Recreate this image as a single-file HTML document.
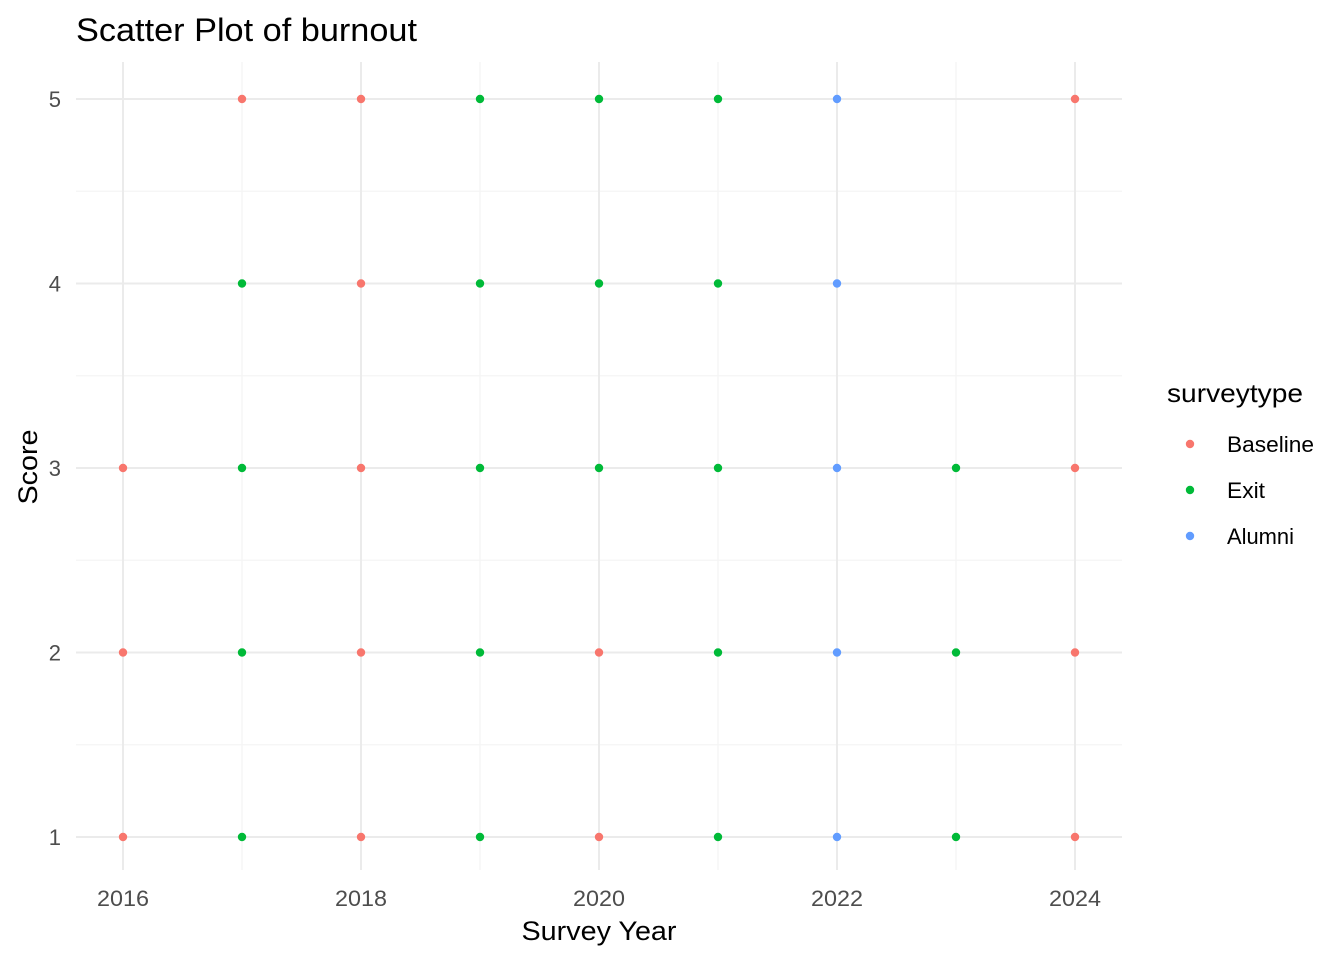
<!DOCTYPE html>
<html><head><meta charset="utf-8"><style>
body{margin:0;background:#fff;font-family:"Liberation Sans",Arial,sans-serif}
svg text{font-family:"Liberation Sans",Arial,sans-serif}
</style></head><body>
<svg id="chart" width="1344" height="960" xmlns="http://www.w3.org/2000/svg">
<text x="76" y="41" font-size="32" textLength="341" lengthAdjust="spacingAndGlyphs" fill="#000">Scatter Plot of burnout</text>
<g id="grid"></g>
<g id="points"></g>
<g id="xticks"></g>
<g id="yticks"></g>
<text x="599" y="940" font-size="27" textLength="155" lengthAdjust="spacingAndGlyphs" text-anchor="middle" fill="#000">Survey Year</text>
<text transform="translate(37,467) rotate(-90)" font-size="27" textLength="75" lengthAdjust="spacingAndGlyphs" text-anchor="middle" fill="#000">Score</text>
<g>
<text x="1167" y="402" font-size="26" textLength="136" lengthAdjust="spacingAndGlyphs" fill="#000">surveytype</text>
<g><circle cx="1190" cy="444" r="4.2" fill="#F8766D"/><text x="1227" y="452" font-size="22" textLength="87" lengthAdjust="spacingAndGlyphs">Baseline</text></g>
<g><circle cx="1190" cy="490" r="4.2" fill="#00BA38"/><text x="1227" y="498" font-size="22" textLength="38" lengthAdjust="spacingAndGlyphs">Exit</text></g>
<g><circle cx="1190" cy="536" r="4.2" fill="#619CFF"/><text x="1227" y="544" font-size="22" textLength="67" lengthAdjust="spacingAndGlyphs">Alumni</text></g>
</g>
</svg>
<script>
const years = [2016,2016,2016,2017,2017,2017,2017,2017,2018,2018,2018,2018,2018,2019,2019,2019,2019,2019,2020,2020,2020,2020,2020,2021,2021,2021,2021,2021,2022,2022,2022,2022,2022,2023,2023,2023,2024,2024,2024,2024];
const scores = [3,2,1,5,4,3,2,1,5,4,3,2,1,5,4,3,2,1,5,4,3,2,1,5,4,3,2,1,5,4,3,2,1,3,2,1,5,3,2,1];
const types = ["B","B","B","B","E","E","E","E","B","B","B","B","B","E","E","E","E","E","E","E","E","B","B","E","E","E","E","E","A","A","A","A","A","E","E","E","B","B","B","B"];
const xTicks = [2016,2018,2020,2022,2024];
const yTicks = [1,2,3,4,5];
const colors = {B:"#F8766D",E:"#00BA38",A:"#619CFF"};
const NS="http://www.w3.org/2000/svg";
function xs(v){return 123+(v-2016)*(1075-123)/8;}
function ys(v){return 837-(v-1)*(837-99)/4;}
const X0=76,X1=1122,Y0=62,Y1=870;
function mk(tag,attrs,parent){const e=document.createElementNS(NS,tag);for(const k in attrs)e.setAttribute(k,attrs[k]);parent.appendChild(e);return e;}
const grid=document.getElementById('grid');
for(let v=2017;v<=2023;v+=2){const l=mk('line',{x1:xs(v),x2:xs(v),y1:Y0,y2:Y1,stroke:'#f4f4f4','stroke-width':1.2},grid);

}
for(let v=1.5;v<5;v+=1){const l=mk('line',{x1:X0,x2:X1,y1:ys(v),y2:ys(v),stroke:'#f4f4f4','stroke-width':1.2},grid);

}
xTicks.forEach(v=>{const l=mk('line',{x1:xs(v),x2:xs(v),y1:Y0,y2:Y1,stroke:'#ebebeb','stroke-width':2},grid);


const t=mk('text',{x:xs(v),y:906,'font-size':22,textLength:52,lengthAdjust:'spacingAndGlyphs','text-anchor':'middle',fill:'#4d4d4d'},document.getElementById('xticks'));t.textContent=v;

});
yTicks.forEach(v=>{const l=mk('line',{x1:X0,x2:X1,y1:ys(v),y2:ys(v),stroke:'#ebebeb','stroke-width':2},grid);


const t=mk('text',{x:61,y:ys(v)+8,'font-size':22,'text-anchor':'end',fill:'#4d4d4d'},document.getElementById('yticks'));t.textContent=v;

});
const pts=document.getElementById('points');
years.forEach((y,i)=>{const c=mk('circle',{cx:xs(y),cy:ys(scores[i]),r:4.2,fill:colors[types[i]]},pts);

});
</script>
</body></html>
